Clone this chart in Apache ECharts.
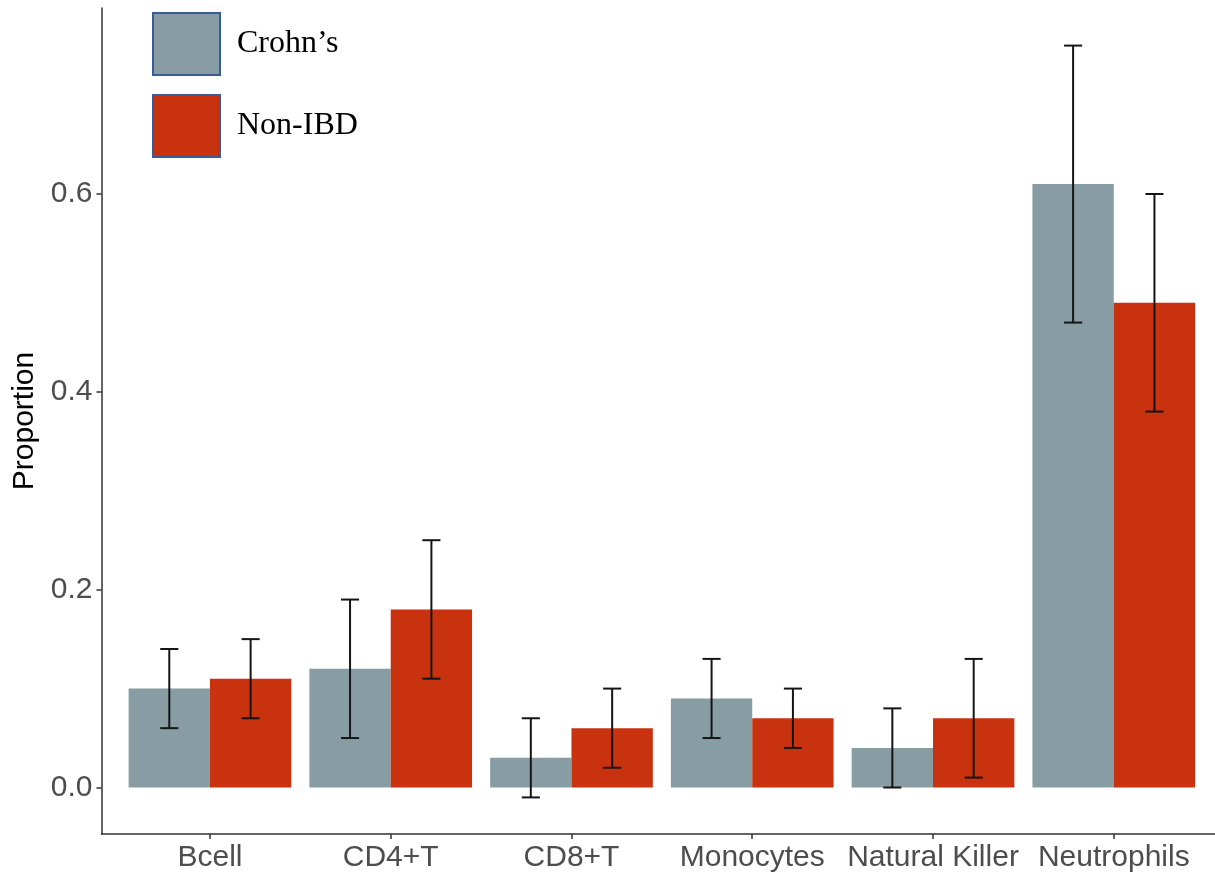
<!DOCTYPE html>
<html>
<head>
<meta charset="utf-8">
<script src="https://cdn.jsdelivr.net/npm/echarts@6/dist/echarts.min.js"></script>
<style>html,body{margin:0;padding:0;background:#fff;}#chart{width:1215px;height:877px;}</style>
</head>
<body>
<div id="chart"></div>
<script>
const categories = ['Bcell', 'CD4+T', 'CD8+T', 'Monocytes', 'Natural Killer', 'Neutrophils'];
const seriesNames = ['Crohn\u2019s', 'Non-IBD'];
const crohnsMean = [0.10, 0.12, 0.03, 0.09, 0.04, 0.61];
const crohnsLow  = [0.06, 0.05, -0.01, 0.05, 0.00, 0.47];
const crohnsHigh = [0.14, 0.19, 0.07, 0.13, 0.08, 0.75];
const nonIbdMean = [0.11, 0.18, 0.06, 0.07, 0.07, 0.49];
const nonIbdLow  = [0.07, 0.11, 0.02, 0.04, 0.01, 0.38];
const nonIbdHigh = [0.15, 0.25, 0.10, 0.10, 0.13, 0.60];
const yTicks = [0, 0.2, 0.4, 0.6];

const colors = ['#889DA3', '#C8320F'];
const dodge = 0.225;   // half of 0.45 bar width (data units)
const barW = 0.45;
const capW = 0.1;

function barData(mean, off) {
  return mean.map((v, i) => [i + 1 + off, v]);
}
function errData(low, high, off) {
  return low.map((l, i) => [i + 1 + off, l, high[i]]);
}

function renderBar(params, api) {
  const x = api.value(0), v = api.value(1);
  const w = api.size([barW, 0])[0];
  const top = api.coord([x, v]);
  const base = api.coord([x, 0]);
  return {
    type: 'rect',
    shape: { x: top[0] - w / 2, y: Math.min(top[1], base[1]), width: w, height: Math.abs(base[1] - top[1]) },
    style: { fill: api.visual('color') }
  };
}
function renderErr(params, api) {
  const x = api.value(0);
  const lo = api.coord([x, api.value(1)]);
  const hi = api.coord([x, api.value(2)]);
  const hw = api.size([capW, 0])[0] / 2;
  const st = { stroke: '#151515', lineWidth: 2 };
  return {
    type: 'group',
    children: [
      { type: 'line', shape: { x1: lo[0], y1: lo[1], x2: hi[0], y2: hi[1] }, style: st },
      { type: 'line', shape: { x1: lo[0] - hw, y1: lo[1], x2: lo[0] + hw, y2: lo[1] }, style: st },
      { type: 'line', shape: { x1: hi[0] - hw, y1: hi[1], x2: hi[0] + hw, y2: hi[1] }, style: st }
    ]
  };
}

const chart = echarts.init(document.getElementById('chart'), null, { renderer: 'canvas' });
const axisFont = { fontFamily: 'Liberation Sans', fontSize: 30, color: '#4D4D4D' };
chart.setOption({
  animation: false,
  backgroundColor: '#fff',
  grid: { left: 101.5, right: 0, top: 8, height: 826, containLabel: false },
  legend: {
    orient: 'vertical',
    left: 152, top: 12, padding: 0,
    itemWidth: 67, itemHeight: 62, itemGap: 18,
    icon: 'rect',
    selectedMode: false,
    data: seriesNames,
    itemStyle: { borderColor: '#3B5A9A', borderWidth: 2 },
    textStyle: { fontFamily: 'Liberation Serif', fontSize: 32, color: '#000', padding: [0, 0, 0, 12] }
  },
  xAxis: {
    type: 'value', min: 0.4, max: 6.56,
    splitLine: { show: false },
    axisLine: { show: true, onZero: false, lineStyle: { color: '#333', width: 1.5 } },
    axisTick: { show: true, length: 5, customValues: categories.map((c, i) => i + 1), lineStyle: { color: '#333', width: 1.5 } },
    axisLabel: Object.assign({ margin: 9, customValues: categories.map((c, i) => i + 1), formatter: v => categories[Math.round(v) - 1] }, axisFont)
  },
  yAxis: {
    type: 'value', min: -0.047, max: 0.788,
    name: 'Proportion', nameLocation: 'middle', nameGap: 60, nameRotate: 90,
    nameTextStyle: { fontFamily: 'Liberation Sans', fontSize: 30, color: '#000' },
    splitLine: { show: false },
    axisLine: { show: true, onZero: false, lineStyle: { color: '#333', width: 1.5 } },
    axisTick: { show: true, length: 5, customValues: yTicks, lineStyle: { color: '#333', width: 1.5 } },
    axisLabel: Object.assign({ margin: 9, customValues: yTicks, formatter: v => v.toFixed(1) }, axisFont)
  },
  series: [
    { name: seriesNames[0], type: 'custom', renderItem: renderBar, itemStyle: { color: colors[0] },
      data: barData(crohnsMean, -dodge), encode: { x: 0, y: 1 }, z: 2 },
    { name: seriesNames[1], type: 'custom', renderItem: renderBar, itemStyle: { color: colors[1] },
      data: barData(nonIbdMean, dodge), encode: { x: 0, y: 1 }, z: 2 },
    { name: 'errCrohns', type: 'custom', renderItem: renderErr, itemStyle: { color: '#151515' },
      data: errData(crohnsLow, crohnsHigh, -dodge), encode: { x: 0, y: [1, 2] }, z: 3 },
    { name: 'errNonIBD', type: 'custom', renderItem: renderErr, itemStyle: { color: '#151515' },
      data: errData(nonIbdLow, nonIbdHigh, dodge), encode: { x: 0, y: [1, 2] }, z: 3 }
  ]
});
</script>
</body>
</html>
